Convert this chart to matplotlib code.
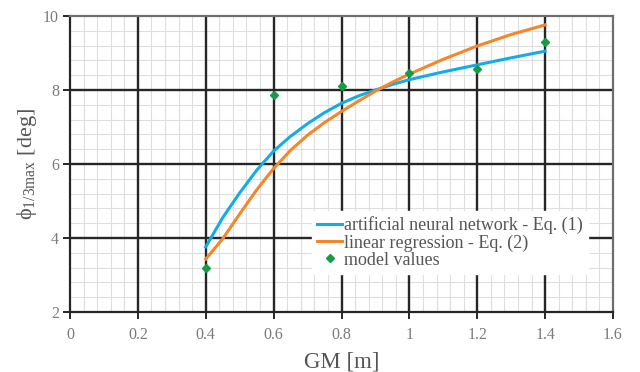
import numpy as np
import matplotlib
matplotlib.use("Agg")
import matplotlib.pyplot as plt
from matplotlib.ticker import MultipleLocator

# GM [m] against roll angle phi_1/3max [deg]
gm_curve = [0.4, 0.45, 0.5, 0.55, 0.6, 0.65, 0.7, 0.75, 0.8, 0.85, 0.9, 0.95, 1.0, 1.1, 1.2, 1.3, 1.4]
ann = [3.76, 4.55, 5.22, 5.83, 6.35, 6.75, 7.09, 7.39, 7.64, 7.84, 8.0, 8.15, 8.28, 8.49, 8.68, 8.87, 9.05]
linreg = [3.43, 3.98, 4.65, 5.3, 5.88, 6.37, 6.78, 7.12, 7.42, 7.7, 7.97, 8.21, 8.43, 8.83, 9.19, 9.5, 9.76]

gm_model = [0.4, 0.6, 0.8, 1.0, 1.2, 1.4]
model = [3.18, 7.86, 8.1, 8.47, 8.57, 9.29]

xticks = [0, 0.2, 0.4, 0.6, 0.8, 1.0, 1.2, 1.4, 1.6]
xticklabels = ["0", "0.2", "0.4", "0.6", "0.8", "1", "1.2", "1.4", "1.6"]
yticks = [2, 4, 6, 8, 10]

plt.rcParams['font.family'] = ['Liberation Serif', 'DejaVu Serif']
plt.rcParams['mathtext.fontset'] = 'custom'
plt.rcParams['mathtext.rm'] = 'Liberation Serif'
plt.rcParams['mathtext.it'] = 'Liberation Serif'

fig = plt.figure(figsize=(6.4, 3.72), dpi=100)
ax = fig.add_axes([70/640, 1-312/372, 543/640, 296/372])

ax.set_xlim(0, 1.6)
ax.set_ylim(2, 10)
ax.xaxis.set_minor_locator(MultipleLocator(0.04))
ax.yaxis.set_minor_locator(MultipleLocator(0.4))
ax.set_xticks(xticks)
ax.set_xticklabels(xticklabels)
ax.set_yticks(yticks)

# fine grid underneath, heavy lines on the major ticks
ax.grid(which='minor', color='#dedede', linewidth=0.8)
ax.set_axisbelow(True)
for x in xticks[1:-1]:
    ax.axvline(x, color='#262626', linewidth=1.7, zorder=1.5)
for y in yticks[1:-1]:
    ax.axhline(y, color='#262626', linewidth=1.7, zorder=1.5)

for side in ['top', 'right']:
    ax.spines[side].set_color('#6e6e6e')
    ax.spines[side].set_linewidth(1.6)
for side in ['left', 'bottom']:
    ax.spines[side].set_color('#262626')
    ax.spines[side].set_linewidth(1.6)

ax.tick_params(which='major', direction='out', length=5, width=1.4, color='#262626',
               labelsize=11.5, labelcolor='#7a7a7a')
ax.tick_params(axis='x', which='major', pad=6)
ax.tick_params(axis='y', which='major', pad=3)
ax.tick_params(which='minor', length=0)

ax.plot(gm_curve, ann, color='#12ade8', linewidth=2.2, label='artificial neural network - Eq. (1)', zorder=3)
ax.plot(gm_curve, linreg, color='#f6862a', linewidth=2.2, label='linear regression - Eq. (2)', zorder=3)
ax.plot(gm_model, model, linestyle='none', marker='D', markersize=4.5, color='#179c45',
        label='model values', zorder=4)

ax.set_xlabel('GM [m]', fontsize=16.5, color='#555555', labelpad=6)
ax.set_ylabel(r'ϕ$_{\mathrm{1/3max}}$ [deg]', fontsize=16, color='#555555', labelpad=3)

leg = ax.legend(loc='lower left', bbox_to_anchor=(0.445, 0.128), frameon=True, fontsize=13,
                handlelength=1.4, handletextpad=0.1, labelspacing=0.0, borderpad=0.3,
                borderaxespad=0)
leg.get_frame().set_facecolor('white')
leg.get_frame().set_edgecolor('white')
leg.get_frame().set_alpha(1)
leg.get_frame().set_boxstyle('square', pad=0)
leg.set_zorder(5)
for t in leg.get_texts():
    t.set_color('#555555')

fig.savefig('out.png', dpi=100)
